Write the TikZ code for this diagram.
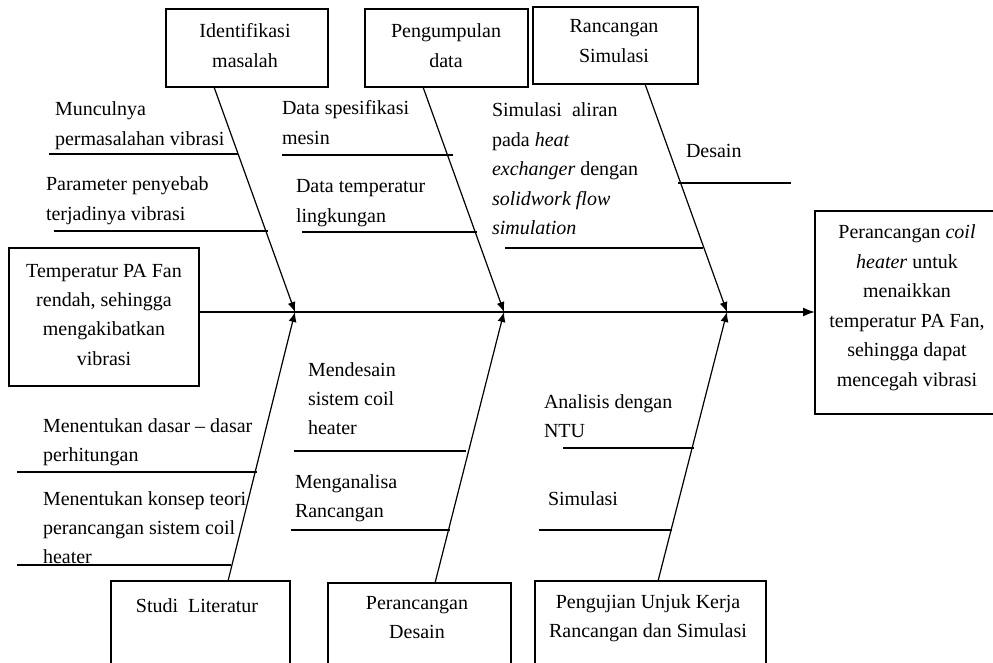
\documentclass[tikz,border=0pt]{standalone}
\usepackage{fontspec}
\setmainfont{Liberation Serif}
\usetikzlibrary{arrows.meta}
\newcommand{\myL}[1]{\begin{tabular}[t]{@{}l@{}}#1\end{tabular}}
\newcommand{\myC}[1]{\begin{tabular}[t]{@{}c@{}}#1\end{tabular}}
\begin{document}
\begin{tikzpicture}[x=1pt,y=-1pt,
  every node/.style={font=\fontsize{20}{29.4}\selectfont, inner sep=0pt, outer sep=0pt},
  box/.style={draw, line width=1.4pt, anchor=north west, inner sep=0pt},
  bone/.style={line width=1.2pt, -{Latex[length=10pt,width=8pt]}},
  sub/.style={line width=1.2pt},
  txt/.style={anchor=base west},
  ctxt/.style={anchor=base}]
\useasboundingbox (0,0) rectangle (993,663);
% boxes
\node[box, minimum width=162pt, minimum height=78pt] (b1) at (166,9) {};
\node[box, minimum width=163pt, minimum height=78pt] (b2) at (365,9) {};
\node[box, minimum width=165pt, minimum height=77pt] (b3) at (533,7) {};
\node[box, minimum width=190pt, minimum height=138pt] (lb) at (9,248) {};
\node[box, minimum width=185pt, minimum height=203pt] (rb) at (815,211) {};
\node[box, minimum width=179pt, minimum height=95pt] (b4) at (111,581) {};
\node[box, minimum width=183pt, minimum height=95pt] (b5) at (328,583) {};
\node[box, minimum width=231pt, minimum height=95pt] (b6) at (535,581) {};
% junctions on the spine
\coordinate (j1) at (295,312);
\coordinate (j2) at (504,312);
\coordinate (j3) at (727,312);
% bone start points on the boxes
\coordinate (t1) at ([xshift=48pt]b1.south west);
\coordinate (t2) at ([xshift=58pt]b2.south west);
\coordinate (t3) at ([xshift=112pt]b3.south west);
\coordinate (t4) at ([xshift=117pt]b4.north west);
\coordinate (t5) at ([xshift=107pt]b5.north west);
\coordinate (t6) at ([xshift=123pt]b6.north west);
% spine
\draw[line width=1.7pt, -{Latex[length=12pt,width=9pt]}] (lb.east |- j1) -- (rb.west |- j1);
% bones
\draw[bone] (t1) -- (j1);
\draw[bone] (t2) -- (j2);
\draw[bone] (t3) -- (j3);
\draw[bone] (t4) -- (j1);
\draw[bone] (t5) -- (j2);
\draw[bone] (t6) -- (j3);
% sub bones
\draw[sub] (49,154) -- (238,154);
\draw[sub] (54,231) -- (268,231);
\draw[sub] (282,155) -- (453,155);
\draw[sub] (302,232) -- (477,232);
\draw[sub] (678,183) -- (791,183);
\draw[sub] (505,248) -- (703,248);
\draw[sub] (17,472) -- (257,472);
\draw[sub] (17,565) -- (231,565);
\draw[sub] (294,451) -- (466,451);
\draw[sub] (291,530) -- (450,530);
\draw[sub] (563,448) -- (694,448);
\draw[sub] (539,530) -- (672,530);
% box texts
\node[ctxt] (l1) at (245,38) {\myC{Identifikasi\\masalah}};
\node[ctxt] (l2) at (446,38) {\myC{Pengumpulan\\data}};
\node[ctxt] (l3) at (614,33) {\myC{Rancangan\\Simulasi}};
\node[ctxt] (l4) at (104,277) {\myC{Temperatur PA Fan\\rendah, sehingga\\mengakibatkan\\vibrasi}};
\node[ctxt] (l5) at (907,239) {\myC{Perancangan \textit{coil}\\\textit{heater} untuk\\menaikkan\\temperatur PA Fan,\\sehingga dapat\\mencegah vibrasi}};
\node[ctxt] (l6) at (197,612) {Studi\ \ Literatur};
\node[ctxt] (l7) at (417,609) {\myC{Perancangan\\Desain}};
\node[ctxt] (l8) at (648,608) {\myC{Pengujian Unjuk Kerja\\Rancangan dan Simulasi}};
% cause texts
\node[txt] (c1) at (55,116) {\myL{Munculnya\\permasalahan vibrasi}};
\node[txt] (c2) at (46,191) {\myL{Parameter penyebab\\terjadinya vibrasi}};
\node[txt] (c3) at (282,115) {\myL{Data spesifikasi\\mesin}};
\node[txt] (c4) at (296,193) {\myL{Data temperatur\\lingkungan}};
\node[txt] (c5) at (492,117) {\myL{Simulasi\ \ aliran\\pada \textit{heat}\\\textit{exchanger} dengan\\\textit{solidwork flow}\\\textit{simulation}}};
\node[txt] (c6) at (686,158) {Desain};
\node[txt] (c7) at (43,432) {\myL{Menentukan dasar -- dasar\\perhitungan}};
\node[txt] (c8) at (43,505) {\myL{Menentukan konsep teori\\perancangan sistem coil\\heater}};
\node[txt] (c9) at (308,376) {\myL{Mendesain\\sistem coil\\heater}};
\node[txt] (c10) at (295,488) {\myL{Menganalisa\\Rancangan}};
\node[txt] (c11) at (544,408) {\myL{Analisis dengan\\NTU}};
\node[txt] (c12) at (548,505) {Simulasi};
\end{tikzpicture}
\end{document}
